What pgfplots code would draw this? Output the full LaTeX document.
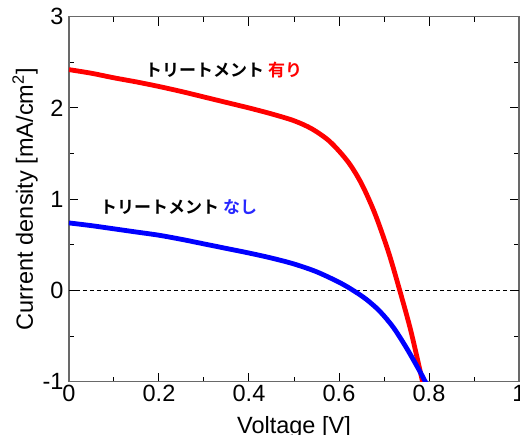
\documentclass[border=0pt]{standalone}
\usepackage{pgfplots}
\pgfplotsset{compat=1.18}
\usepackage{fontspec}
\setmainfont{Liberation Sans}
\newfontfamily\jp{Noto Sans CJK JP}[BoldFont={* Bold}]
\definecolor{axisgray}{RGB}{105,105,105}
\definecolor{lblue}{RGB}{40,40,255}

\begin{document}
\begin{tikzpicture}
\useasboundingbox (-69pt,-53.3pt) rectangle (451pt,381.7pt);
\begin{axis}[
  at={(0,0)}, anchor=south west,
  scale only axis,
  width=450pt, height=365pt,
  xmin=0, xmax=1, ymin=-1, ymax=3,
  xtick={0,0.2,...,1}, ytick={-1,0,1,2,3},
  minor x tick num=1, minor y tick num=1,
  xticklabels={0,0.2,0.4,0.6,0.8,1},
  tick align=inside,
  major tick length=9pt, minor tick length=5pt,
  tick style={black, line width=1pt},
  axis line style={axisgray, line width=1.6pt},
  every axis/.append style={font=\fontsize{23.5}{28}\selectfont},
  /pgf/number format/assume math mode=true,
  yticklabel style={xshift=-2pt},
  xlabel={Voltage [V]},
  ylabel={Current density [mA/cm\textsuperscript{2}]},
  xlabel style={at={(axis description cs:0.5,0)}, anchor=base, yshift=-52pt},
  ylabel style={at={(axis description cs:0,0.5)}, anchor=base, yshift=36pt},
  clip=true,
]
\addplot[black, line width=0.8pt, dash pattern=on 4pt off 3pt] coordinates {(0,0) (1,0)};
% with treatment
\addplot[red, line width=4.8pt, smooth, tension=0.5] coordinates {
  (0,2.42) (0.05,2.38) (0.10,2.33) (0.15,2.285) (0.20,2.235) (0.25,2.18) (0.30,2.12)
  (0.35,2.06) (0.40,2.00) (0.45,1.935) (0.50,1.86) (0.54,1.77) (0.58,1.63)
  (0.62,1.41) (0.65,1.17) (0.68,0.84) (0.71,0.42) (0.735,0.0)
  (0.76,-0.45) (0.787,-1.03)};
% without treatment
\addplot[blue, line width=4.8pt, smooth, tension=0.5] coordinates {
  (0,0.74) (0.05,0.71) (0.10,0.675) (0.15,0.64) (0.20,0.605) (0.25,0.56) (0.30,0.51)
  (0.35,0.46) (0.40,0.41) (0.45,0.355) (0.50,0.29) (0.55,0.205) (0.60,0.09)
  (0.63,0.005) (0.66,-0.095) (0.69,-0.225) (0.72,-0.40) (0.75,-0.63) (0.78,-0.89) (0.797,-1.05)};
\node[anchor=west, inner sep=0pt, font=\jp\bfseries\fontsize{17}{20}\selectfont]
  at (axis cs:0.169,2.42) {トリートメント \textcolor{red}{有り}};
\node[anchor=west, inner sep=0pt, font=\jp\bfseries\fontsize{17}{20}\selectfont]
  at (axis cs:0.069,0.91) {トリートメント \textcolor{lblue}{なし}};
\end{axis}
\end{tikzpicture}
\end{document}
